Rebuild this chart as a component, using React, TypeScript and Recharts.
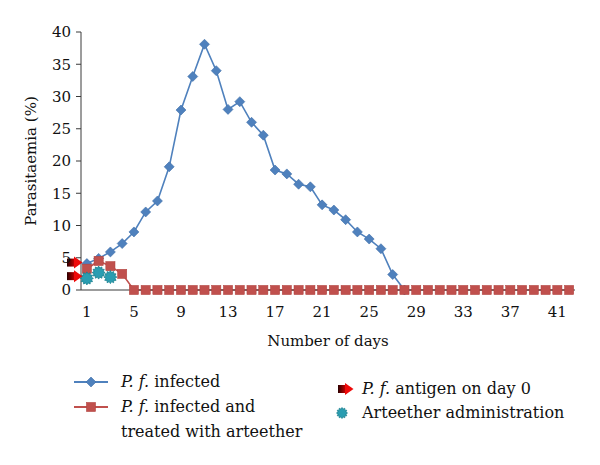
import { ComposedChart, Line, Scatter, XAxis, YAxis } from "recharts";

// day numbers on the x axis
const days = [
  1, 2, 3, 4, 5, 6, 7, 8, 9, 10, 11, 12, 13, 14, 15, 16, 17, 18, 19, 20, 21,
  22, 23, 24, 25, 26, 27, 28, 29, 30, 31, 32, 33, 34, 35, 36, 37, 38, 39, 40,
  41, 42,
];
const xTicks = [1, 5, 9, 13, 17, 21, 25, 29, 33, 37, 41];
const yTicks = [0, 5, 10, 15, 20, 25, 30, 35, 40];

// parasitaemia (%), P. f. infected, days 1..28
const infected = [
  4.1, 4.9, 5.9, 7.2, 9.0, 12.1, 13.8, 19.1, 27.9, 33.1, 38.1, 34.0, 28.0,
  29.2, 26.0, 24.0, 18.6, 18.0, 16.4, 16.0, 13.2, 12.4, 10.9, 9.0, 7.9, 6.4,
  2.4, 0,
];
// P. f. infected and treated with arteether, days 1..42
const treated = [
  3.3, 4.5, 3.7, 2.5, 0, 0, 0, 0, 0, 0, 0, 0, 0, 0, 0, 0, 0, 0, 0, 0, 0, 0, 0,
  0, 0, 0, 0, 0, 0, 0, 0, 0, 0, 0, 0, 0, 0, 0, 0, 0, 0, 0,
];
// arteether administration, days 1..3
const arteetherDays = [1, 2, 3];
const arteether = [1.8, 2.7, 2.0];
// antigen on day 0 (drawn at the left edge of the axis)
const antigenDays = [0.5, 0.5];
const antigen = [4.25, 2.15];

const BLUE = "#4F81BD";
const RED = "#C0504D";
const TEAL = "#2A9DB1";
const AXIS = "#3a3a3a";
const FONT = "'DejaVu Serif', 'Liberation Serif', serif";

const infectedData = infected.map((v, i) => ({ day: days[i], value: v }));
const treatedData = treated.map((v, i) => ({ day: days[i], value: v }));
const arteetherData = arteether.map((v, i) => ({ day: arteetherDays[i], value: v }));
const antigenData = antigen.map((v, i) => ({ day: antigenDays[i], value: v }));

function Diamond({ cx, cy }: { cx: number; cy: number }) {
  const r = 5;
  return (
    <path
      d={`M${cx},${cy - r} L${cx + r},${cy} L${cx},${cy + r} L${cx - r},${cy} Z`}
      fill={BLUE}
      stroke="#3f6ea8"
      strokeWidth={0.6}
    />
  );
}

function Square({ cx, cy }: { cx: number; cy: number }) {
  return (
    <rect x={cx - 4.6} y={cy - 4.6} width={9.2} height={9.2} fill={RED} stroke="#b0403d" strokeWidth={0.5} />
  );
}

function Star({ cx, cy, r = 6.5 }: { cx: number; cy: number; r?: number }) {
  const pts: string[] = [];
  const n = 12;
  for (let i = 0; i < n * 2; i++) {
    const rr = i % 2 === 0 ? r : r * 0.72;
    const a = (Math.PI * i) / n;
    pts.push(`${(cx + rr * Math.cos(a)).toFixed(2)},${(cy + rr * Math.sin(a)).toFixed(2)}`);
  }
  return <polygon points={pts.join(" ")} fill={TEAL} stroke="#17808f" strokeWidth={0.8} />;
}

function Arrow({ cx, cy }: { cx: number; cy: number }) {
  return (
    <g>
      <rect x={cx - 14} y={cy - 4} width={7.5} height={8} fill="url(#antigenGrad)" />
      <polygon points={`${cx - 7},${cy - 6} ${cx + 1.5},${cy} ${cx - 7},${cy + 6}`} fill="#EE0A0A" />
    </g>
  );
}

const renderDiamond = (p: any) => <Diamond key={`d${p.index}`} cx={p.cx} cy={p.cy} />;
const renderSquare = (p: any) => <Square key={`s${p.index}`} cx={p.cx} cy={p.cy} />;

function LegendLine({ color, marker }: { color: string; marker: "diamond" | "square" }) {
  return (
    <svg width={34} height={14} style={{ position: "absolute", left: 74, top: -7 }}>
      <line x1={0} y1={7} x2={34} y2={7} stroke={color} strokeWidth={2} />
      {marker === "diamond" ? <Diamond cx={17} cy={7} /> : <Square cx={17} cy={7} />}
    </svg>
  );
}

const italic = { fontStyle: "italic" as const };
const textStyle = {
  position: "absolute" as const,
  fontFamily: FONT,
  fontSize: 16,
  lineHeight: "25px",
  color: "#111",
  whiteSpace: "nowrap" as const,
};

export default function App() {
  return (
    <div style={{ position: "absolute", left: 0, top: 0, width: 600, height: 465, background: "#fff" }}>
      <ComposedChart
        width={600}
        height={465}
        margin={{ top: 32, right: 25, left: 16, bottom: 115 }}
        style={{ fontFamily: FONT }}
      >
        <defs>
          <linearGradient id="antigenGrad" x1="0" y1="0" x2="1" y2="0">
            <stop offset="0%" stopColor="#2a0000" />
            <stop offset="100%" stopColor="#c40000" />
          </linearGradient>
        </defs>
        <XAxis
          dataKey="day"
          type="number"
          domain={[0.5, 42.5]}
          ticks={xTicks}
          allowDuplicatedCategory={false}
          height={60}
          tickLine={false}
          tickSize={0}
          tickMargin={16}
          stroke={AXIS}
          tick={{ fill: "#111", fontSize: 15, fontFamily: FONT }}
          label={{
            value: "Number of days",
            position: "insideBottom",
            offset: 4,
            style: { fill: "#111", fontSize: 15, fontFamily: FONT },
          }}
        />
        <YAxis
          type="number"
          domain={[0, 40]}
          ticks={yTicks}
          width={65}
          tickSize={5}
          tickMargin={5}
          stroke={AXIS}
          tick={{ fill: "#111", fontSize: 15, fontFamily: FONT }}
          label={{
            value: "Parasitaemia (%)",
            angle: -90,
            position: "insideLeft",
            offset: 15,
            style: { textAnchor: "middle", fill: "#111", fontSize: 15, fontFamily: FONT },
          }}
        />
        <Line
          data={infectedData}
          dataKey="value"
          stroke={BLUE}
          strokeWidth={1.6}
          dot={renderDiamond}
          activeDot={false}
          isAnimationActive={false}
        />
        <Line
          data={treatedData}
          dataKey="value"
          stroke={RED}
          strokeWidth={1.6}
          dot={renderSquare}
          activeDot={false}
          isAnimationActive={false}
        />
        <Scatter
          data={arteetherData}
          dataKey="value"
          shape={(p: any) => <Star cx={p.cx} cy={p.cy} />}
          isAnimationActive={false}
        />
        <Scatter
          data={antigenData}
          dataKey="value"
          shape={(p: any) => <Arrow cx={p.cx} cy={p.cy} />}
          isAnimationActive={false}
        />
      </ComposedChart>

      {/* legend */}
      <div style={{ position: "absolute", left: 0, top: 382 }}>
        <LegendLine color={BLUE} marker="diamond" />
        <div style={{ ...textStyle, left: 121, top: -13 }}>
          <span style={italic}>P. f.</span> infected
        </div>
      </div>
      <div style={{ position: "absolute", left: 0, top: 407 }}>
        <LegendLine color={RED} marker="square" />
        <div style={{ ...textStyle, left: 121, top: -13 }}>
          <span style={italic}>P. f.</span> infected and
          <br />
          treated with arteether
        </div>
      </div>
      <div style={{ position: "absolute", left: 0, top: 389 }}>
        <svg width={20} height={14} style={{ position: "absolute", left: 335, top: -7 }}>
          <Arrow cx={17} cy={7} />
        </svg>
        <div style={{ ...textStyle, left: 362, top: -13 }}>
          <span style={italic}>P. f.</span> antigen on day 0
        </div>
      </div>
      <div style={{ position: "absolute", left: 0, top: 413 }}>
        <svg width={16} height={16} style={{ position: "absolute", left: 334, top: -8 }}>
          <Star cx={8} cy={8} r={5.5} />
        </svg>
        <div style={{ ...textStyle, left: 362, top: -13 }}>Arteether administration</div>
      </div>
    </div>
  );
}
